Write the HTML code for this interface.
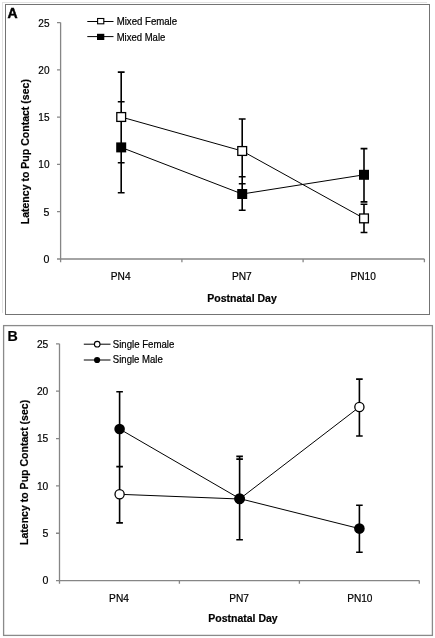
<!DOCTYPE html>
<html><head><meta charset="utf-8"><style>
html,body{margin:0;padding:0;background:#fff;}
svg{display:block;will-change:transform;}
text{font-family:"Liberation Sans", sans-serif;fill:#000;stroke:#000;stroke-width:0.2px;}
</style></head><body>
<svg width="435" height="638" viewBox="0 0 435 638">
<rect width="435" height="638" fill="#fff"/>
<path d="M2.5 2 V313 M2 2.5 H427" stroke="#e2e2e2" stroke-width="1" fill="none"/>
<rect x="5.5" y="4.5" width="424" height="310" fill="none" stroke="#737373" stroke-width="1"/>
<text x="7.6" y="17.9" font-size="14" font-weight="bold" style="stroke-width:0.45px">A</text>
<path d="M60.6 22.6 V262.2 M60.6 259.0 H424.4 M57 22.60 H60.6 M57 69.88 H60.6 M57 117.16 H60.6 M57 164.44 H60.6 M57 211.72 H60.6 M57 259.00 H60.6 M181.9 259.0 V262.2 M303.1 259.0 V262.2 M424.4 259.0 V262.2" stroke="#868686" stroke-width="1.3" fill="none"/>
<text x="49.5" y="26.50" font-size="11" text-anchor="end" textLength="11.2" lengthAdjust="spacingAndGlyphs">25</text>
<text x="49.5" y="73.78" font-size="11" text-anchor="end" textLength="11.2" lengthAdjust="spacingAndGlyphs">20</text>
<text x="49.5" y="121.06" font-size="11" text-anchor="end" textLength="11.2" lengthAdjust="spacingAndGlyphs">15</text>
<text x="49.5" y="168.34" font-size="11" text-anchor="end" textLength="11.2" lengthAdjust="spacingAndGlyphs">10</text>
<text x="49.5" y="215.62" font-size="11" text-anchor="end" textLength="5.9" lengthAdjust="spacingAndGlyphs">5</text>
<text x="49.5" y="262.90" font-size="11" text-anchor="end" textLength="5.9" lengthAdjust="spacingAndGlyphs">0</text>
<text x="120.7" y="280" font-size="10.1" text-anchor="middle" textLength="19.8" lengthAdjust="spacingAndGlyphs">PN4</text>
<text x="241.8" y="280" font-size="10.1" text-anchor="middle" textLength="19.8" lengthAdjust="spacingAndGlyphs">PN7</text>
<text x="363.2" y="280" font-size="10.1" text-anchor="middle" textLength="25.3" lengthAdjust="spacingAndGlyphs">PN10</text>
<text x="242.1" y="301.9" font-size="10.5" font-weight="bold" text-anchor="middle">Postnatal Day</text>
<text transform="translate(29.1 151.7) rotate(-90)" x="0" y="0" font-size="10.5" font-weight="bold" text-anchor="middle" textLength="145.2" lengthAdjust="spacingAndGlyphs">Latency to Pup Contact (sec)</text>
<path d=" M121.2 72.1 V162.7 M117.8 72.1 H124.60000000000001 M117.8 162.7 H124.60000000000001 M121.2 101.7 V192.8 M117.8 101.7 H124.60000000000001 M117.8 192.8 H124.60000000000001 M242.2 119.0 V183.8 M238.79999999999998 119.0 H245.6 M238.79999999999998 183.8 H245.6 M242.2 176.7 V210.3 M238.79999999999998 176.7 H245.6 M238.79999999999998 210.3 H245.6 M364.0 204.3 V232.5 M360.6 204.3 H367.4 M360.6 232.5 H367.4 M364.0 148.6 V201.9 M360.6 148.6 H367.4 M360.6 201.9 H367.4" stroke="#000" stroke-width="1.6" fill="none"/>
<polyline points="121.2,117.0 242.2,151.0 364.0,218.4" stroke="#000" stroke-width="1" fill="none"/>
<polyline points="121.2,147.4 242.2,194.0 364.0,174.8" stroke="#000" stroke-width="1" fill="none"/>
<rect x="116.8" y="112.6" width="8.8" height="8.8" fill="#fff" stroke="#000" stroke-width="1.3"/>
<rect x="237.79999999999998" y="146.6" width="8.8" height="8.8" fill="#fff" stroke="#000" stroke-width="1.3"/>
<rect x="359.6" y="214.0" width="8.8" height="8.8" fill="#fff" stroke="#000" stroke-width="1.3"/>
<rect x="116.2" y="142.4" width="10" height="10" fill="#000"/>
<rect x="237.2" y="189.0" width="10" height="10" fill="#000"/>
<rect x="359.0" y="169.8" width="10" height="10" fill="#000"/>
<path d="M87.3 21.5 H113.5 M87.3 36.6 H113.5" stroke="#000" stroke-width="1" fill="none"/>
<rect x="97.6" y="18.5" width="6.2" height="5.3" fill="#fff" stroke="#000" stroke-width="1.1"/>
<rect x="97" y="33.8" width="7.3" height="6.2" fill="#000"/>
<text x="116.7" y="24.8" font-size="10.1" textLength="60.4" lengthAdjust="spacingAndGlyphs">Mixed Female</text>
<text x="116.7" y="40.9" font-size="10.1" textLength="48.6" lengthAdjust="spacingAndGlyphs">Mixed Male</text>
<rect x="3.6" y="325.6" width="428.8" height="309.8" fill="none" stroke="#8a8a8a" stroke-width="1.3"/>
<text x="7.4" y="341.3" font-size="15.3" font-weight="bold" textLength="10.3" lengthAdjust="spacingAndGlyphs">B</text>
<path d="M59.5 343.85 V583.8000000000001 M59.5 580.6 H419.3 M56 343.85 H59.5 M56 391.20 H59.5 M56 438.55 H59.5 M56 485.90 H59.5 M56 533.25 H59.5 M56 580.60 H59.5 M179.4 580.6 V583.8000000000001 M299.4 580.6 V583.8000000000001 M419.3 580.6 V583.8000000000001" stroke="#868686" stroke-width="1.3" fill="none"/>
<text x="48.3" y="347.65" font-size="11" text-anchor="end" textLength="11.4" lengthAdjust="spacingAndGlyphs">25</text>
<text x="48.3" y="395.00" font-size="11" text-anchor="end" textLength="11.4" lengthAdjust="spacingAndGlyphs">20</text>
<text x="48.3" y="442.35" font-size="11" text-anchor="end" textLength="11.4" lengthAdjust="spacingAndGlyphs">15</text>
<text x="48.3" y="489.70" font-size="11" text-anchor="end" textLength="11.4" lengthAdjust="spacingAndGlyphs">10</text>
<text x="48.3" y="537.05" font-size="11" text-anchor="end" textLength="5.9" lengthAdjust="spacingAndGlyphs">5</text>
<text x="48.3" y="584.40" font-size="11" text-anchor="end" textLength="5.9" lengthAdjust="spacingAndGlyphs">0</text>
<text x="119.0" y="602" font-size="10.1" text-anchor="middle" textLength="19.8" lengthAdjust="spacingAndGlyphs">PN4</text>
<text x="239.1" y="602" font-size="10.1" text-anchor="middle" textLength="19.8" lengthAdjust="spacingAndGlyphs">PN7</text>
<text x="359.8" y="602" font-size="10.1" text-anchor="middle" textLength="25.3" lengthAdjust="spacingAndGlyphs">PN10</text>
<text x="243" y="622" font-size="10.5" font-weight="bold" text-anchor="middle">Postnatal Day</text>
<text transform="translate(28 472.4) rotate(-90)" x="0" y="0" font-size="10.5" font-weight="bold" text-anchor="middle" textLength="145.2" lengthAdjust="spacingAndGlyphs">Latency to Pup Contact (sec)</text>
<path d=" M119.6 466.7 V522.9 M116.3 466.7 H122.89999999999999 M116.3 522.9 H122.89999999999999 M119.6 391.8 V466.5 M116.3 391.8 H122.89999999999999 M116.3 466.5 H122.89999999999999 M239.6 459.1 V539.8 M236.29999999999998 459.1 H242.9 M236.29999999999998 539.8 H242.9 M239.6 456.4 V539.8 M236.29999999999998 456.4 H242.9 M236.29999999999998 539.8 H242.9 M359.4 379.1 V436.0 M356.09999999999997 379.1 H362.7 M356.09999999999997 436.0 H362.7 M359.4 505.2 V552.3 M356.09999999999997 505.2 H362.7 M356.09999999999997 552.3 H362.7" stroke="#000" stroke-width="1.6" fill="none"/>
<polyline points="119.6,494.3 239.6,499.0 359.4,407.0" stroke="#000" stroke-width="1" fill="none"/>
<polyline points="119.6,429.0 239.6,498.6 359.4,528.6" stroke="#000" stroke-width="1" fill="none"/>
<circle cx="119.6" cy="494.3" r="4.6" fill="#fff" stroke="#000" stroke-width="1.3"/>
<circle cx="239.6" cy="499.0" r="4.6" fill="#fff" stroke="#000" stroke-width="1.3"/>
<circle cx="359.4" cy="407.0" r="4.6" fill="#fff" stroke="#000" stroke-width="1.3"/>
<circle cx="119.6" cy="429.0" r="5.3" fill="#000"/>
<circle cx="239.6" cy="498.6" r="5.3" fill="#000"/>
<circle cx="359.4" cy="528.6" r="5.3" fill="#000"/>
<path d="M83.8 344.2 H110.5 M83.8 360.0 H110.5" stroke="#000" stroke-width="1" fill="none"/>
<circle cx="97.2" cy="344.2" r="2.8" fill="#fff" stroke="#000" stroke-width="1.1"/>
<circle cx="97.1" cy="360.0" r="3.1" fill="#000"/>
<text x="112.8" y="347.8" font-size="10.1" textLength="61.5" lengthAdjust="spacingAndGlyphs">Single Female</text>
<text x="112.8" y="363.2" font-size="10.1" textLength="50" lengthAdjust="spacingAndGlyphs">Single Male</text>
</svg>
</body></html>
